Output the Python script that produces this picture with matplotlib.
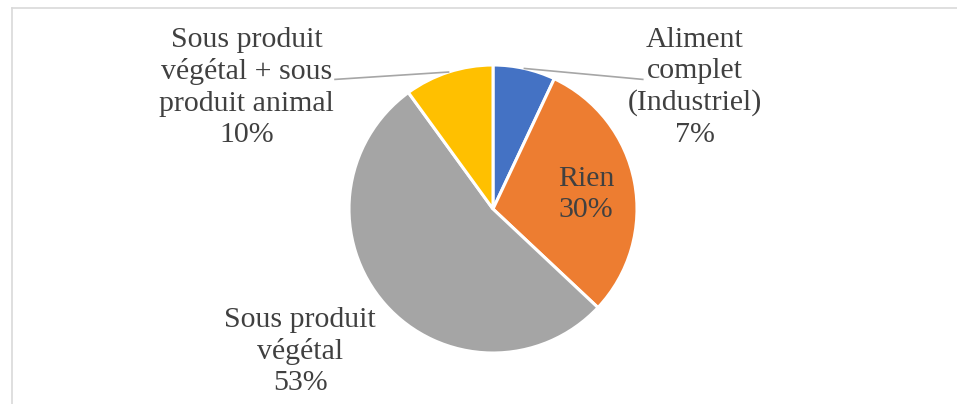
import numpy as np
import matplotlib
matplotlib.use("Agg")
import matplotlib.pyplot as plt
from matplotlib.lines import Line2D

labels = ["Aliment\ncomplet\n(Industriel)", "Rien", "Sous produit\nvégétal",
          "Sous produit\nvégétal + sous\nproduit animal"]
shares = [7, 30, 53, 10]
colors = ["#4472C4", "#ED7D31", "#A5A5A5", "#FFC000"]

# where each label block sits (pie radius = 1)
label_pos = [(1.40, 0.845), (0.646, 0.10), (-1.34, -0.99), (-1.71, 0.845)]
# end of the leader line near the label, None = no leader
leader_end = [(1.04, 0.90), None, None, (-1.097, 0.90)]

plt.rcParams["font.family"] = ["Liberation Serif", "DejaVu Serif"]
text_color = "#404040"

W, H = 957, 404
R = 144.0
cx, cy = 493, 209
fig = plt.figure(figsize=(W / 100, H / 100), dpi=100)
ax = fig.add_axes([0, 0, 1, 1])

wedges, _ = ax.pie(shares, colors=colors, startangle=90, counterclock=False,
                   radius=1.0, wedgeprops=dict(edgecolor="white", linewidth=2.2),
                   frame=True)
ax.set_xlim(-cx / R, (W - cx) / R)
ax.set_ylim((cy - H) / R, cy / R)
ax.set_aspect("auto")
ax.axis("off")

for w, lab, val, pos, end in zip(wedges, labels, shares, label_pos, leader_end):
    ax.text(pos[0], pos[1], f"{lab}\n{val}%", ha="center", va="center",
            fontsize=21.5, color=text_color, linespacing=1.26)
    if end is not None:
        mid = np.deg2rad((w.theta1 + w.theta2) / 2)
        ax.plot([np.cos(mid), end[0]], [np.sin(mid), end[1]],
                color="#A6A6A6", lw=1.2)

# chart area border (top and left edges visible)
fig.add_artist(Line2D([12 / W, 1], [1 - 8 / H, 1 - 8 / H], color="#D9D9D9", lw=1.2))
fig.add_artist(Line2D([12 / W, 12 / W], [0, 1 - 8 / H], color="#D9D9D9", lw=1.2))

fig.savefig("out.png", dpi=100, facecolor="white")
